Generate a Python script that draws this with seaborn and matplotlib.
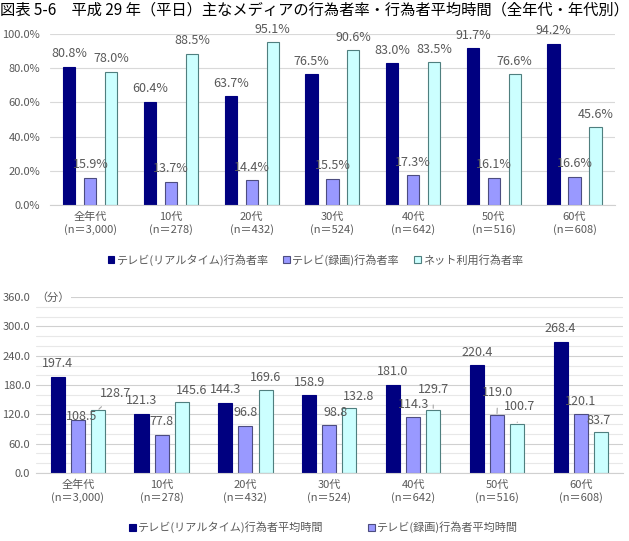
# 平成29年（平日）主なメディアの行為者率・行為者平均時間

import pandas as pd
import matplotlib.pyplot as plt
import seaborn as sns
from matplotlib.patches import Patch
from matplotlib.ticker import MultipleLocator

sns.set_style('white')
plt.rcParams['font.family'] = ['Noto Sans CJK JP', 'DejaVu Sans']

# data
groups = ['全年代\n(n＝3,000)', '10代\n(n＝278)', '20代\n(n＝432)', '30代\n(n＝524)',
          '40代\n(n＝642)', '50代\n(n＝516)', '60代\n(n＝608)']

rate_series = ['テレビ(リアルタイム)行為者率', 'テレビ(録画)行為者率', 'ネット利用行為者率']
rate_tv_live = [80.8, 60.4, 63.7, 76.5, 83.0, 91.7, 94.2]
rate_tv_rec = [15.9, 13.7, 14.4, 15.5, 17.3, 16.1, 16.6]
rate_net = [78.0, 88.5, 95.1, 90.6, 83.5, 76.6, 45.6]

time_series = ['テレビ(リアルタイム)行為者平均時間', 'テレビ(録画)行為者平均時間', 'ネット利用行為者平均時間']
time_tv_live = [197.4, 121.3, 144.3, 158.9, 181.0, 220.4, 268.4]
time_tv_rec = [108.5, 77.8, 96.8, 98.8, 114.3, 119.0, 120.1]
time_net = [128.7, 145.6, 169.6, 132.8, 129.7, 100.7, 83.7]

colors = ['#000080', '#9999FF', '#CCFFFF']
edges = ['#000080', '#4d4d80', '#4f7f7f']
grey = '#595959'


def long_table(series, columns):
    rows = []
    for name, vals in zip(series, columns):
        for g, v in zip(groups, vals):
            rows.append({'group': g, 'series': name, 'value': v})
    return pd.DataFrame(rows)


rates = long_table(rate_series, [rate_tv_live, rate_tv_rec, rate_net])
times = long_table(time_series, [time_tv_live, time_tv_rec, time_net])

fig = plt.figure(figsize=(6.29, 5.41), dpi=100)
fig.text(0.0, 0.982, '図表 5-6　平成 29 年（平日）主なメディアの行為者率・行為者平均時間（全年代・年代別）',
         fontsize=11, ha='left', va='center', color='black')

ax1 = fig.add_axes([0.0795, 0.621, 0.898, 0.316])
ax2 = fig.add_axes([0.057, 0.1257, 0.933, 0.325])


def style_bars(ax):
    for cont, fc, ec in zip(ax.containers, colors, edges):
        for bar in cont:
            bar.set_facecolor(fc)
            bar.set_edgecolor(ec)
            bar.set_linewidth(0.8)


def style_axes(ax, ypad):
    for s in ['top', 'right', 'left']:
        ax.spines[s].set_visible(False)
    ax.spines['bottom'].set_color('#d0d0d0')
    ax.set_xlabel('')
    ax.set_ylabel('')
    ax.tick_params(axis='both', length=0, colors=grey)
    ax.tick_params(axis='y', labelsize=8, pad=ypad)
    ax.tick_params(axis='x', labelsize=8, pad=5)
    ax.set_axisbelow(True)
    ax.set_xlim(-0.5, len(groups) - 0.5)


def label_bars(ax, fmt, special=None):
    special = special or {}
    for si, cont in enumerate(ax.containers):
        for gi, bar in enumerate(cont):
            h = bar.get_height()
            x = bar.get_x() + bar.get_width() / 2
            dx, dy, leader = special.get((si, gi), (0, 13, False))
            kw = {}
            if leader:
                kw['arrowprops'] = dict(arrowstyle='-', color='#a6a6a6', lw=0.8,
                                        shrinkA=4, shrinkB=1)
            ax.annotate(fmt.format(h), xy=(x, h), xytext=(dx, dy),
                        textcoords='offset pixels', ha='center', va='center',
                        fontsize=9, color=grey, **kw)


# --- top chart: 行為者率
sns.barplot(data=rates, x='group', y='value', hue='series', order=groups,
            hue_order=rate_series, palette=colors, width=0.78, gap=0.42,
            legend=False, ax=ax1)
style_bars(ax1)
style_axes(ax1, 7)
ax1.set_ylim(0, 100)
ax1.yaxis.set_major_locator(MultipleLocator(20))
ax1.set_yticklabels([f'{v:.1f}%' for v in ax1.get_yticks()])
ax1.grid(axis='y', color='#d9d9d9', lw=0.8)
label_bars(ax1, '{:.1f}%')
ax1.legend(handles=[Patch(facecolor=c, edgecolor=e, lw=0.8, label=n)
                    for c, e, n in zip(colors, edges, rate_series)],
           loc='center', bbox_to_anchor=(0.47, -0.32), ncol=3, frameon=False,
           fontsize=8, handlelength=0.6, handleheight=0.6, handletextpad=0.2,
           columnspacing=1.3, labelcolor=grey)

# --- bottom chart: 行為者平均時間
sns.barplot(data=times, x='group', y='value', hue='series', order=groups,
            hue_order=time_series, palette=colors, width=0.72, gap=0.3,
            legend=False, ax=ax2)
style_bars(ax2)
style_axes(ax2, 4)
ax2.set_ylim(0, 360)
ax2.yaxis.set_major_locator(MultipleLocator(60))
ax2.yaxis.set_minor_locator(MultipleLocator(20))
ax2.set_yticklabels([f'{v:.1f}' for v in ax2.get_yticks()])
ax2.grid(axis='y', which='major', color='#d0d0d0', lw=0.8)
ax2.grid(axis='y', which='minor', color='#e8e8e8', lw=0.8)
ax2.text(0.0, 1.0, '（分）', transform=ax2.transAxes, ha='left', va='center',
         fontsize=8, color=grey, bbox=dict(facecolor='white', edgecolor='none', pad=1))
label_bars(ax2, '{:.1f}', special={
    (1, 0): (4, 4, False),
    (2, 0): (18, 17, True),
    (2, 1): (10, 11, False),
    (1, 3): (6, 12, False),
    (2, 3): (9, 12, False),
    (2, 4): (0, 20, True),
    (1, 5): (1, 22, True),
    (2, 5): (2, 17, True),
    (2, 6): (-2, 12, False),
})
ax2.legend(handles=[Patch(facecolor=c, edgecolor=e, lw=0.8, label=n)
                    for c, e, n in zip(colors[:2], edges[:2], time_series[:2])],
           loc='center', bbox_to_anchor=(0.49, -0.31), ncol=2, frameon=False,
           fontsize=8, handlelength=0.6, handleheight=0.6, handletextpad=0.2,
           columnspacing=4.0, labelcolor=grey)

plt.savefig('out.png', dpi=100)
